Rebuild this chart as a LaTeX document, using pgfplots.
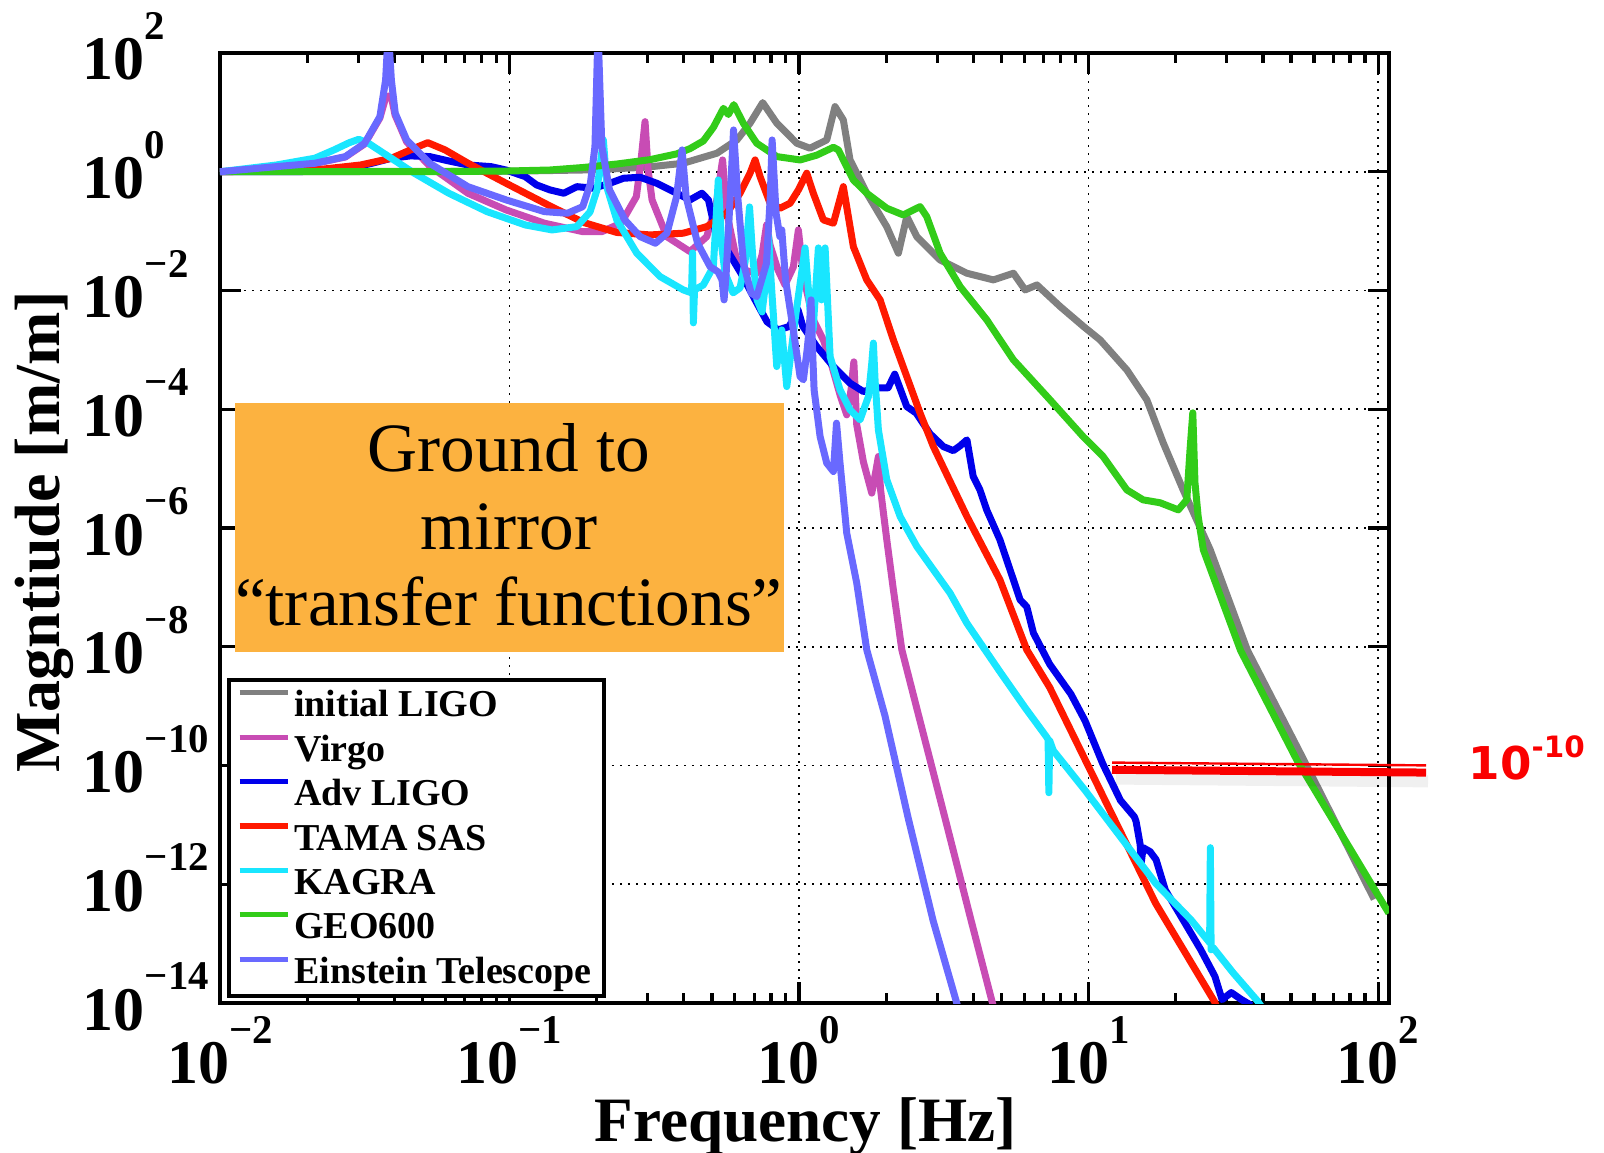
\documentclass[border=0pt]{standalone}
\usepackage{fontspec}
\setmainfont{Liberation Serif}
\newfontfamily\annfont{DejaVu Sans}
\usepackage{pgfplots}
\pgfplotsset{compat=1.18}

\definecolor{cLIGO}{RGB}{128,128,128}
\definecolor{cVirgo}{RGB}{200,76,180}
\definecolor{cAdv}{RGB}{0,0,235}
\definecolor{cTAMA}{RGB}{255,25,0}
\definecolor{cKAGRA}{RGB}{25,230,255}
\definecolor{cGEO}{RGB}{50,204,25}
\definecolor{cET}{RGB}{105,105,255}
\definecolor{cOrange}{RGB}{252,178,64}
\definecolor{cRed}{RGB}{250,0,0}

\newcommand{\tpow}[1]{10\raisebox{10.1pt}{\fontsize{10.2}{10.2}\selectfont #1}}
\newcommand{\boxfont}{\fontsize{17.3}{17.3}\selectfont}

\begin{document}
\begin{tikzpicture}
\path[use as bounding box] (0,0) rectangle (401pt,288.25pt);
\begin{axis}[
  at={(55pt,37.5pt)}, anchor=south west,
  scale only axis, width=292.25pt, height=237.5pt,
  xmode=log, ymode=log,
  xmin=0.01, xmax=109, ymin=1e-14, ymax=1e2,
  xtick={0.01,0.1,1,10,100},
  xticklabels={\tpow{−2},\tpow{−1},\tpow{0},\tpow{1},\tpow{2}},
  ytick={1e-14,1e-12,1e-10,1e-8,1e-6,1e-4,1e-2,1,1e2},
  yticklabels={\tpow{−14},\tpow{−12},\tpow{−10},\tpow{−8},\tpow{−6},\tpow{−4},\tpow{−2},\tpow{0},\tpow{2}},
  yminorticks=false,
  tick pos=both, tick align=inside,
  major tick length=5.25pt, minor tick length=2.6pt,
  tick style={black, line width=0.8pt},
  axis line style={line width=1pt},
  grid=major,
  major grid style={black, line width=0.4pt, dash pattern=on 0.4pt off 1.6pt},
  xticklabel style={font=\fontsize{15.5}{15.5}\selectfont\bfseries, anchor=base, inner sep=0pt, yshift=-20.2pt},
  yticklabel style={font=\fontsize{15.5}{15.5}\selectfont\bfseries, anchor=base west, inner xsep=0pt, xshift=-34.5pt, yshift=-6.75pt},
  legend style={at={(axis description cs:0.006,0.342)}, anchor=north west, draw=black, line width=1pt, fill=white,
    inner xsep=2pt, inner ysep=0.6pt, font=\fontsize{9.5}{9.5}\selectfont\bfseries, row sep=0pt,
    nodes={inner xsep=1pt, inner ysep=0pt, text height=8.6pt, text depth=2.5pt}},
  legend cell align=left,
  legend image code/.code={\draw[#1, line width=1.3pt] (0pt,3pt) -- (12pt,3pt);},
  every axis plot/.append style={line width=1.75pt, line join=round},
]
% initial LIGO
\addplot[cLIGO] coordinates {(0.01,1) (0.1,1.02) (0.2,1.08) (0.3,1.2) (0.398,1.39) (0.52,2.05) (0.61,3.43) (0.677,6.55) (0.749,14.6) (0.838,6.55) (0.982,3.02) (1.091,2.49) (1.246,3.43) (1.331,12.5) (1.422,7.44) (1.50,1.58) (1.713,0.4345) (2.008,0.119) (2.203,0.0425) (2.355,0.1754) (2.55,0.0808) (3.07,0.0327) (3.796,0.01955) (4.69,0.01508) (5.50,0.01955) (6.035,0.01023) (6.63,0.0124) (7.98,0.00536) (9.61,0.00247) (10.96,0.00147) (13.55,4.6e-4) (15.89,1.44e-4) (18.1,2.72e-5) (21.2,4.4e-6) (26.3,4.3e-7) (35.4,8.6e-9) (55.5,1.21e-10) (96.9,5.6e-13)};
\addlegendentry{initial LIGO}
% Virgo
\addplot[cVirgo] coordinates {(0.01,1.0) (0.01567,1.205) (0.02126,1.38) (0.0271,1.77) (0.0316,2.94) (0.03567,8.05) (0.03733,17.5) (0.0383,19) (0.03927,16.2) (0.04023,9.04) (0.04414,3.18) (0.05297,1.25) (0.07181,0.4345) (0.0973,0.2275) (0.132,0.136) (0.179,0.098) (0.2084,0.098) (0.2428,0.136) (0.2742,0.381) (0.2846,1.58) (0.2938,6.97) (0.301,1.07) (0.3107,0.335) (0.3493,0.0808) (0.420,0.0452) (0.4799,0.0808) (0.5168,0.276) (0.5443,1.58) (0.5619,0.2104) (0.6049,0.0372) (0.6421,0.0222) (0.7143,0.01955) (0.7452,0.0398) (0.7723,0.127) (0.7940,0.0586) (0.8454,0.0222) (0.8944,0.0124) (0.9556,0.0249) (0.9945,0.1047) (1.035,0.01714) (1.12,0.0032) (1.213,0.00147) (1.28,6.79e-4) (1.385,1.75e-4) (1.461,8.05e-5) (1.512,2.12e-4) (1.546,6.28e-4) (1.582,5.46e-5) (1.668,1.3e-5) (1.783,3.87e-6) (1.845,9.55e-6) (1.879,1.6e-5) (1.912,4.4e-6) (2.009,6.32e-7) (2.117,9.1e-8) (2.264,8.9e-9) (2.589,6.9e-10) (3.19,1.32e-11) (3.93,2.44e-13) (4.654,1e-14) (4.79,6.3e-15)};
\addlegendentry{Virgo}
% Adv LIGO
\addplot[cAdv] coordinates {(0.01,1.0) (0.0189,1.0) (0.0297,1.22) (0.0335,1.39) (0.0391,1.69) (0.0455,1.85) (0.053,1.80) (0.0617,1.52) (0.0719,1.30) (0.0863,1.22) (0.0972,1.07) (0.1133,0.827) (0.124,0.600) (0.138,0.494) (0.154,0.4345) (0.171,0.561) (0.195,0.527) (0.222,0.64) (0.2475,0.777) (0.2826,0.808) (0.3225,0.64) (0.378,0.4345) (0.4198,0.335) (0.4615,0.4345) (0.4865,0.335) (0.5195,0.080) (0.569,0.0447) (0.635,0.0183) (0.705,0.00694) (0.775,0.00298) (0.846,0.00217) (0.924,0.00247) (0.992,0.00471) (1.03,0.0025) (1.151,0.001137) (1.314,5.24e-4) (1.50,2.75e-4) (1.667,1.99e-4) (1.873,2.3e-4) (2.03,2.3e-4) (2.14,3.9e-4) (2.355,1.11e-4) (2.54,8.6e-5) (2.835,3.85e-5) (3.15,2.35e-5) (3.41,2.01e-5) (3.59,2.4e-5) (3.80,3.05e-5) (3.995,7.37e-6) (4.21,4.43e-6) (4.45,2.0e-6) (4.94,6.32e-7) (5.50,1.34e-7) (5.80,6.18e-8) (6.115,4.71e-8) (6.45,1.70e-8) (7.34,5.07e-9) (8.69,1.59e-9) (9.72,5.68e-10) (11.19,1.07e-10) (12.88,2.59e-11) (14.4,1.36e-11) (14.59,1.135e-11) (15.07,4.65e-12) (15.18,2.22e-12) (15.43,4.13e-12) (16.31,3.54e-12) (17.1,2.6e-12) (18.4,8.0e-13) (21.2,2.51e-13) (24.4,7.89e-14) (27.3,2.81e-14) (28.9,1.14e-14) (31.1,1.5e-14) (33.65,1.15e-14) (36.5,9.1e-15)};
\addlegendentry{Adv LIGO}
% TAMA SAS
\addplot[cTAMA] coordinates {(0.01,1.0) (0.02126,1.07) (0.0306,1.30) (0.0391,1.69) (0.0469,2.49) (0.0522,3.09) (0.0599,2.33) (0.0719,1.39) (0.0973,0.640) (0.138,0.265) (0.180,0.14) (0.2346,0.095) (0.306,0.0863) (0.398,0.0922) (0.480,0.119) (0.5626,0.200) (0.6254,0.4345) (0.677,0.944) (0.705,1.58) (0.7335,0.827) (0.794,0.295) (0.860,0.243) (0.931,0.295) (0.9945,0.494) (1.063,0.944) (1.12,0.4345) (1.213,0.1545) (1.314,0.136) (1.422,0.561) (1.54,0.0548) (1.713,0.01508) (1.905,0.00695) (2.117,0.00147) (2.355,3.55e-4) (2.618,8.6e-5) (2.91,2.35e-5) (3.80,1.56e-6) (4.94,1.34e-7) (6.115,8.9e-9) (7.34,2.06e-9) (12.17,1.35e-11) (17.05,4.75e-13) (27.2,1.06e-14) (28.5,6e-15)};
\addlegendentry{TAMA SAS}
% KAGRA
\addplot[cKAGRA] coordinates {(0.01,1.0) (0.01567,1.30) (0.02126,1.69) (0.02476,2.33) (0.02797,3.09) (0.03016,3.52) (0.03256,3.02) (0.03675,2.05) (0.04691,0.943) (0.0617,0.4345) (0.0836,0.213) (0.1134,0.127) (0.1402,0.1047) (0.1707,0.119) (0.1897,0.2104) (0.2005,0.494) (0.2109,3.43) (0.2172,0.534) (0.2346,0.1545) (0.2751,0.0425) (0.3311,0.01714) (0.3984,0.01023) (0.4252,0.00912) (0.4286,0.043) (0.4314,0.00285) (0.4355,0.01023) (0.467,0.0124) (0.5058,0.0252) (0.526,0.728) (0.5408,0.0548) (0.555,0.01977) (0.5916,0.00912) (0.6254,0.01106) (0.651,0.0303) (0.6745,0.2555) (0.691,0.0398) (0.7158,0.00695) (0.7452,0.00436) (0.7691,0.01508) (0.7846,0.083) (0.8003,0.01508) (0.8375,5.24e-4) (0.8714,0.00217) (0.9068,2.41e-4) (0.9687,0.0032) (1.049,0.0521) (1.091,0.00471) (1.118,0.00217) (1.166,0.0521) (1.196,0.00695) (1.23,0.0521) (1.28,7.71e-4) (1.385,2.12e-4) (1.50,9.77e-5) (1.624,6.63e-5) (1.736,1.64e-4) (1.783,5.97e-4) (1.806,0.0013) (1.83,3.13e-4) (1.879,4.5e-5) (2.009,6.48e-6) (2.234,1.56e-6) (2.55,4.89e-7) (2.91,1.98e-7) (3.324,8.0e-8) (3.796,2.5e-8) (4.94,3.8e-9) (6.035,9.4e-10) (7.19,2.94e-10) (7.245,2.72e-10) (7.29,3.48e-11) (7.34,2.62e-10) (7.55,1.79e-10) (9.725,3.81e-11) (12.88,6.28e-12) (17.05,1.035e-12) (22.6,2.5e-13) (26.18,1.04e-13) (26.33,4.13e-12) (26.49,7.9e-14) (26.9,8.6e-14) (31.6,3.2e-14) (38.4,1.07e-14) (39.7,8.4e-15)};
\addlegendentry{KAGRA}
% GEO600
\addplot[cGEO] coordinates {(0.01,1.0) (0.05,1.0) (0.1,1.03) (0.138,1.07) (0.18,1.18) (0.235,1.35) (0.306,1.6) (0.378,2.0) (0.42,2.45) (0.467,3.3) (0.506,5.6) (0.548,11.7) (0.570,9.2) (0.595,13.5) (0.642,6.55) (0.714,3.02) (0.838,1.80) (1.008,1.58) (1.15,1.9) (1.314,2.58) (1.367,2.33) (1.54,0.728) (1.713,0.4345) (2.008,0.243) (2.29,0.1875) (2.618,0.2585) (2.76,0.1754) (3.07,0.0425) (3.60,0.01163) (4.45,0.0032) (5.50,6.79e-4) (7.36,1.44e-4) (9.57,3.47e-5) (11.22,1.6e-5) (13.55,4.39e-6) (15.42,2.98e-6) (17.66,2.66e-6) (20.4,2.02e-6) (21.83,2.98e-6) (22.4,2.07e-5) (22.9,8.7e-5) (23.3,5.77e-6) (23.9,1.56e-6) (24.9,4.3e-7) (33.5,8.6e-9) (52.5,1.21e-10) (108.9,3.25e-13)};
\addlegendentry{GEO600}
% Einstein Telescope
\addplot[cET] coordinates {(0.01,1.0) (0.01567,1.22) (0.02126,1.39) (0.0271,1.80) (0.0316,3.02) (0.03567,8.47) (0.03733,35.1) (0.03814,244) (0.03908,35.1) (0.0403,9.66) (0.04414,3.43) (0.05297,1.39) (0.07181,0.561) (0.09741,0.335) (0.132,0.213) (0.1585,0.200) (0.179,0.2585) (0.1903,0.640) (0.1973,2.65) (0.2021,244) (0.2084,2.65) (0.2215,0.494) (0.2502,0.1545) (0.2826,0.0808) (0.319,0.0625) (0.3498,0.0922) (0.3775,0.381) (0.3944,2.33) (0.4072,0.381) (0.446,0.0625) (0.4928,0.0252) (0.5252,0.0206) (0.542,0.0151) (0.5508,0.00695) (0.5597,0.01832) (0.5776,0.335) (0.5939,5.06) (0.614,0.381) (0.6427,0.0288) (0.6832,0.00901) (0.7143,0.00789) (0.7718,0.0288) (0.7954,0.381) (0.807,3.43) (0.8329,0.200) (0.8584,0.0808) (0.8714,0.1047) (0.8982,0.01508) (0.955,0.00217) (1.008,3.55e-4) (1.035,3.13e-4) (1.066,1.0e-3) (1.083,0.00217) (1.10,0.00695) (1.113,0.001) (1.127,2.12e-4) (1.182,3.47e-5) (1.246,1.24e-5) (1.314,8.94e-6) (1.347,5.83e-5) (1.385,1.24e-5) (1.461,8.2e-7) (1.582,1.18e-7) (1.713,8.9e-9) (1.98,6.9e-10) (2.38,1.32e-11) (2.904,2.44e-13) (3.50,1.02e-14) (3.60,6.3e-15)};
\addlegendentry{Einstein Telescope}
\end{axis}

% orange annotation box
\fill[cOrange] (58.75pt,125.25pt) rectangle (196pt,187.5pt);
\node[anchor=base, inner sep=0pt, font=\boxfont] at (127.2pt,170.35pt) {Ground to};
\node[anchor=base, inner sep=0pt, font=\boxfont] at (127.2pt,150.9pt) {mirror};
\node[anchor=base, inner sep=0pt, font=\boxfont] at (127.2pt,131.75pt) {“transfer functions”};

% axis labels
\node[rotate=90, inner sep=0pt, font=\fontsize{16}{16}\selectfont\bfseries] at (11.1pt,155.25pt) {Magntiude [m/m]};
\node[inner sep=0pt, font=\fontsize{15.8}{15.8}\selectfont\bfseries] at (201.4pt,6.6pt) {Frequency [Hz]};

% red 10^-10 marker
\draw[black, opacity=0.06, line width=3pt] (279pt,93.6pt) -- (357pt,92.9pt);
\draw[cRed, line width=2pt] (278pt,95.8pt) -- (356.5pt,95.1pt);
\draw[cRed, line width=0.6pt] (278pt,97.6pt) -- (356.5pt,96.9pt);
\node[anchor=base west, inner sep=0pt, text=cRed, font=\annfont\bfseries\fontsize{11.3}{11.3}\selectfont] at (367pt,93.4pt) {10\raisebox{5.4pt}{\fontsize{7.35}{7.35}\selectfont -10}};
\end{tikzpicture}
\end{document}
